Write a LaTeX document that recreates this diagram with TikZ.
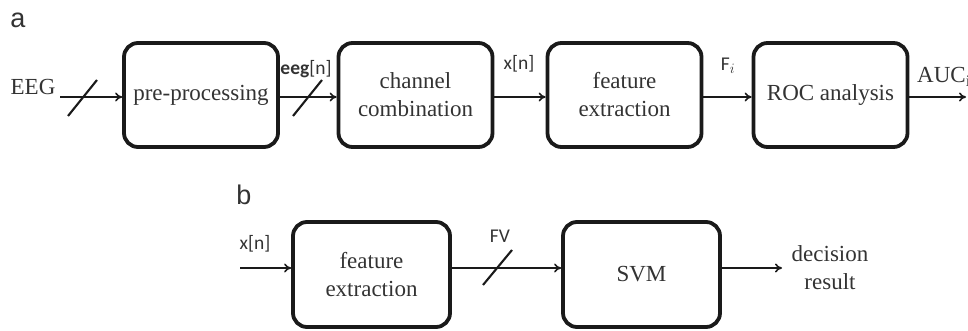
\documentclass[tikz,border=0pt]{standalone}
\usepackage{fontspec}
\setmainfont{Liberation Serif}
\newfontfamily\labfont{Carlito}
\newfontfamily\panelfont{Liberation Sans}
\usetikzlibrary{arrows.meta}
\definecolor{txt}{HTML}{333333}
\definecolor{ln}{HTML}{1A1A1A}
\begin{document}
\begin{tikzpicture}[x=1pt,y=-1pt,
  blockbox/.style={draw=ln,line width=3.8pt,rounded corners=14pt,minimum width=154pt,minimum height=104pt,
    align=center,text=txt,font=\fontsize{23}{28}\selectfont,inner sep=0pt},
  conn/.style={draw=ln,line width=2.1pt,-{To[length=7pt,width=9pt,line width=1.6pt]}},
  slashline/.style={draw=ln,line width=2.1pt},
  lab/.style={text=txt,font=\labfont\fontsize{19.5}{21}\selectfont,inner sep=0pt},
  serlab/.style={text=txt,font=\fontsize{23}{28}\selectfont,inner sep=0pt,align=center},
  panel/.style={text=txt,font=\panelfont\fontsize{27}{30}\selectfont,inner sep=0pt}]
\useasboundingbox (0,0) rectangle (968,331);
% panel a
\node[panel] (pa) at (18,20) {a};
\node[blockbox] (pre) at (201,95) {pre-processing};
\node[blockbox] (cc) at (415.5,95) {channel\\combination};
\node[blockbox] (fe) at (624.5,95) {feature\\extraction};
\node[blockbox] (roc) at (830.5,95) {ROC analysis};
\coordinate (ein) at (60,97);
\coordinate (aucout) at (966,97);
\node[serlab] (eeg) at (33,87) {EEG};
\draw[conn] (ein) -- ([yshift=-2pt]pre.west);
\draw[conn] ([yshift=-2pt]pre.east) -- ([yshift=-2pt]cc.west);
\draw[conn] ([yshift=-2pt]cc.east) -- ([yshift=-2pt]fe.west);
\draw[conn] ([yshift=-2pt]fe.east) -- ([yshift=-2pt]roc.west);
\draw[conn] ([yshift=-2pt]roc.east) -- (aucout);
\coordinate (s1a) at (68,116); \coordinate (s1b) at (97,80);
\coordinate (s2a) at (293,116); \coordinate (s2b) at (322,80);
\draw[slashline] (s1a) -- (s1b);
\draw[slashline] (s2a) -- (s2b);
\node[lab] (eegn) at (306,69) {\textbf{eeg}[n]};
\node[lab] (xn) at (519,64) {x[n]};
\node[lab] (fi) at (728,66) {F$_{\scriptstyle i}$};
\node[serlab,anchor=west] (auc) at (917,77) {AUC$_{\mathrm{i}}$};
% panel b
\node[panel] (pb) at (244,195) {b};
\node[blockbox,minimum width=157pt,minimum height=105pt] (fe2) at (371.5,274.5) {feature\\extraction};
\node[blockbox,minimum width=157pt,minimum height=105pt] (svm) at (641.5,274.5) {SVM};
\coordinate (xin) at (240,268);
\coordinate (dout) at (782,268);
\node[lab] (xn2) at (255,244) {x[n]};
\draw[conn] (xin) -- ([yshift=6.5pt]fe2.west);
\draw[conn] ([yshift=6.5pt]fe2.east) -- ([yshift=6.5pt]svm.west);
\draw[conn] ([yshift=6.5pt]svm.east) -- (dout);
\coordinate (s3a) at (483,285); \coordinate (s3b) at (512,250);
\draw[slashline] (s3a) -- (s3b);
\node[lab] (fv) at (500,236) {FV};
\node[serlab] (dec) at (830,268) {decision\\result};
\end{tikzpicture}
\end{document}
